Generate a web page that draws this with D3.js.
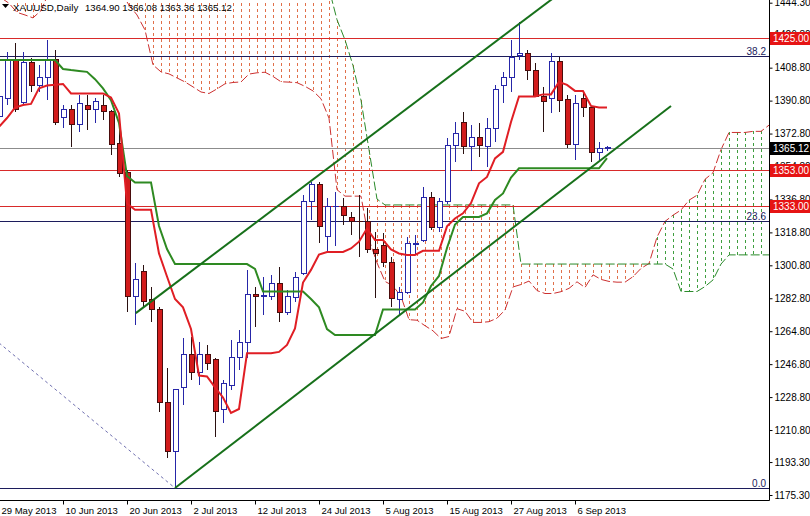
<!DOCTYPE html>
<html><head><meta charset="utf-8">
<script src="https://cdn.jsdelivr.net/npm/d3@7"></script>
<style>
html,body{margin:0;padding:0;background:#fff;}
svg{display:block;font-family:"Liberation Sans",Arial,sans-serif;}
</style></head><body>
<svg id="chart" width="810" height="516"></svg>
<script>
// ---- XAUUSD daily bars (bar 0 = 29 May 2013) ----
const opens  = [1381.9,1392.0,1413.0,1389.5,1411.4,1399.3,1403.2,1413.0,1381.3,1386.2,1378.0,1388.4,1385.7,1388.4,1385.1,1367.1,1351.3,1283.5,1297.2,1281.9,1276.9,1225.6,1198.8,1233.8,1251.8,1242.0,1251.8,1249.1,1221.8,1235.4,1250.2,1258.9,1285.1,1284.0,1284.0,1291.1,1274.8,1283.0,1296.6,1335.4,1344.7,1316.3,1333.0,1333.2,1327.2,1325.0,1324.5,1309.7,1311.4,1302.1,1281.9,1286.2,1312.5,1314.6,1337.6,1321.2,1335.4,1366.0,1379.1,1365.5,1370.9,1365.5,1375.8,1398.8,1403.7,1415.2,1416.8,1407.0,1392.8,1391.7,1411.9,1391.2,1366.6,1391.7,1386.8,1362.7,1364.90];
const highs  = [1395.0,1417.4,1422.3,1417.4,1414.1,1410.3,1423.9,1418.5,1388.4,1388.4,1393.9,1393.9,1392.2,1393.9,1385.7,1376.4,1352.9,1302.1,1301.0,1289.0,1278.0,1244.7,1233.2,1261.1,1261.6,1258.9,1257.3,1250.2,1238.1,1260.0,1265.5,1298.3,1289.0,1294.4,1295.5,1299.9,1287.3,1297.2,1339.2,1346.3,1346.3,1337.6,1340.9,1337.6,1329.9,1339.2,1332.1,1319.0,1318.5,1305.4,1289.0,1316.3,1317.4,1343.6,1340.9,1337.6,1370.4,1379.1,1384.6,1377.5,1378.6,1381.3,1399.3,1406.5,1423.9,1433.8,1418.5,1411.4,1398.3,1416.8,1414.6,1393.9,1393.9,1395.0,1387.3,1368.2,1366.08];
const lows   = [1378.6,1388.4,1384.6,1388.4,1395.5,1395.5,1391.2,1377.5,1375.8,1365.5,1373.7,1374.8,1378.6,1380.2,1361.1,1349.1,1275.3,1268.2,1277.5,1269.8,1220.7,1195.5,1179.1,1224.5,1238.1,1235.4,1243.6,1207.0,1214.7,1232.7,1243.6,1250.2,1267.1,1273.7,1281.9,1269.8,1273.7,1281.0,1295.5,1325.6,1313.0,1308.1,1311.4,1322.8,1317.4,1305.4,1307.5,1282.9,1299.9,1278.0,1273.7,1285.0,1306.5,1313.5,1320.1,1319.0,1334.3,1357.3,1361.6,1352.4,1360.0,1354.5,1368.2,1389.5,1395.5,1413.0,1402.1,1392.5,1373.7,1384.0,1384.6,1364.9,1358.4,1381.9,1357.3,1358.4,1363.36];
const closes = [1392.8,1413.0,1385.7,1411.4,1399.3,1403.2,1413.0,1378.6,1386.2,1378.0,1389.0,1385.7,1390.1,1385.1,1366.6,1350.7,1283.5,1293.3,1281.3,1276.4,1225.6,1198.8,1232.7,1251.8,1242.0,1251.8,1247.4,1220.7,1236.0,1250.2,1258.9,1284.6,1283.5,1284.3,1291.1,1274.8,1283.5,1294.4,1335.4,1344.7,1321.8,1332.7,1333.2,1327.8,1325.0,1324.8,1309.7,1307.0,1302.1,1282.4,1286.2,1312.5,1312.7,1338.1,1321.2,1335.4,1366.0,1373.1,1365.5,1370.9,1366.0,1375.8,1396.6,1403.7,1414.6,1416.8,1407.5,1392.8,1390.1,1411.9,1390.6,1366.6,1389.0,1386.8,1362.7,1364.9,1365.12];

// ---- Ichimoku lines (one value per bar) ----
const tenkan = [1376.4,1381.3,1387.0,1388.4,1389.0,1397.5,1399.0,1399.5,1399.9,1394.7,1394.7,1394.7,1394.7,1394.7,1392.5,1383.8,1334.6,1331.1,1331.1,1331.1,1307.3,1294.7,1282.4,1277.8,1266.0,1240.6,1240.1,1234.1,1228.6,1220.1,1222.3,1252.7,1252.7,1252.7,1252.7,1253.5,1257.3,1266.3,1291.4,1298.3,1306.7,1308.1,1308.1,1308.1,1310.0,1313.7,1320.9,1314.6,1314.6,1309.5,1307.3,1306.5,1306.5,1308.7,1308.7,1308.7,1322.1,1326.4,1329.2,1334.8,1345.6,1349.1,1359.2,1362.8,1379.1,1393.1,1393.1,1393.1,1394.2,1394.2,1401.0,1399.4,1396.1,1396.1,1387.9,1387.1,1387.1];
const kijun  = [1413.0,1413.0,1413.0,1413.0,1413.0,1413.0,1413.0,1413.0,1408.1,1407.5,1407.0,1406.5,1402.5,1397.5,1391.0,1378.6,1349.6,1346.1,1346.1,1346.1,1322.3,1309.7,1301.5,1301.5,1301.5,1301.5,1301.5,1301.5,1301.5,1301.5,1301.5,1301.5,1298.8,1286.5,1286.5,1286.5,1286.5,1286.5,1286.5,1282.4,1277.8,1266.0,1262.7,1262.7,1262.7,1262.7,1262.7,1262.7,1276.7,1276.7,1276.7,1276.7,1276.7,1280.5,1289.5,1295.0,1310.3,1323.1,1327.2,1327.2,1327.2,1329.2,1336.5,1340.1,1348.8,1353.8,1353.8,1353.8,1353.8,1353.8,1353.8,1353.8,1353.8,1353.8,1353.8,1353.8,1359.4];
// cloud spans, already shifted forward (one value per bar position, up to bar 97)
const spanA = [1447.0,1444.0,1439.0,1437.6,1436.0,1440.0,1450,1455,1458,1460,1462,1462,1460,1458,1455,1450,1443.0,1437.6,1429.4,1410.3,1406.5,1405.4,1403.2,1401.0,1398.3,1395.5,1394.7,1397.2,1400.0,1400.7,1401.0,1405.3,1406.0,1406.3,1404.0,1401.1,1400.9,1400.6,1398.6,1396.1,1391.8,1381.2,1342.1,1338.6,1338.6,1338.6,1314.8,1302.2,1292.0,1289.6,1283.8,1271.1,1270.8,1267.8,1265.0,1260.8,1261.9,1277.1,1275.7,1269.6,1269.6,1270.0,1271.9,1276.4,1289.0,1290.3,1292.2,1287.0,1285.4,1285.4,1286.4,1288.2,1291.8,1288.7,1295.6,1293.1,1292.0,1291.6,1291.6,1294.6,1299.1,1301.8,1316.2,1324.8,1328.2,1331.0,1336.4,1339.1,1347.8,1351.4,1364.0,1373.4,1373.4,1373.4,1374.0,1374.0,1377.4,1376.6];
const spanB = [1500,1500,1500,1500,1500,1500,1500,1500,1500,1500,1500,1500,1500,1500,1500,1500,1500,1500,1500,1500,1500,1500,1500,1500,1500,1500,1500,1500,1500,1500,1500,1500,1500,1500,1500,1500,1500,1500,1500,1500,1480,1452,1435,1424,1410,1391,1364,1337,1333.8,1333.8,1333.8,1333.8,1333.8,1333.8,1333.8,1333.8,1333.8,1333.8,1333.8,1333.8,1333.8,1333.8,1333.8,1333.8,1333.8,1301.5,1301.5,1301.5,1301.5,1301.5,1301.5,1301.5,1301.5,1301.5,1301.5,1301.5,1301.5,1301.5,1301.5,1301.5,1301.5,1301.5,1301.5,1301.5,1298.8,1286.5,1286.5,1286.5,1289.2,1292.8,1301.5,1306.5,1306.5,1306.5,1306.5,1306.5,1306.5,1306.5];

// ---- axes ----
const priceTicks = [1444.30,1426.80,1408.80,1390.80,1372.80,1354.80,1336.80,1318.80,1300.80,1282.80,1264.80,1246.80,1228.80,1210.80,1193.30,1175.30];
const dateLabels = ["29 May 2013","10 Jun 2013","20 Jun 2013","2 Jul 2013","12 Jul 2013","24 Jul 2013","5 Aug 2013","15 Aug 2013","27 Aug 2013","6 Sep 2013"];
const dateLabelBars = [0,8,16,24,32,40,48,56,64,72];

// ---- drawn objects ----
const levelLines = [1425.00, 1353.00, 1333.00];
const bidPrice = 1365.12;
const fibLabels = ["0.0","23.6","38.2"];
const fibPrices = [1179.1, 1325.1, 1415.3];
const fibTrend = [[0,1258.4],[22,1179.1]];
const channelUpper = [[17.1,1274.7],[69.2,1446.5]];
const channelLower = [[22,1179.1],[84,1387.9]];
const headerName = "XAUUSD,Daily";
const headerOHLC = "1364.90 1366.08 1363.36 1365.12";

const W = 769, H = 500;
const svg = d3.select("#chart");
const x = d3.scaleLinear().domain([0, 96]).range([-1, 767]);
const y = d3.scaleLinear().domain([1175.3, 1444.3]).range([495.0, 2.7]);

svg.append("defs").append("clipPath").attr("id","plot")
  .append("rect").attr("x",0).attr("y",0).attr("width",W).attr("height",H);
const plot = svg.append("g").attr("clip-path","url(#plot)");
const px = i => Math.round(x(i)) + 0.5;

// cloud hatch: one dotted vertical line per bar between the spans
const cloud = d3.range(spanA.length).map(i => ({i, a: spanA[i], b: spanB[i]}));
plot.append("g").attr("shape-rendering","crispEdges").selectAll("line").data(cloud).join("line")
  .attr("x1", d => px(d.i) + 2).attr("x2", d => px(d.i) + 2)
  .attr("y1", d => y(Math.max(d.a, d.b))).attr("y2", d => y(Math.min(d.a, d.b)))
  .attr("stroke", d => d.a > d.b ? "#3f9e3f" : "#e0704a")
  .attr("stroke-width", 1).attr("stroke-dasharray","3,3");

const lineGen = arr => d3.line().x((d,i) => x(i) + 2).y(d => y(d))(arr);
plot.append("path").attr("d", lineGen(spanA)).attr("fill","none")
  .attr("stroke","#cc3030").attr("stroke-width",1).attr("stroke-dasharray","9,3");
plot.append("path").attr("d", lineGen(spanB)).attr("fill","none")
  .attr("stroke","#2a8a2a").attr("stroke-width",1).attr("stroke-dasharray","9,3");

// fibonacci levels
fibPrices.forEach((p, k) => {
  const yy = Math.round(y(p)) + 0.5;
  plot.append("line").attr("x1",0).attr("x2",W).attr("y1",yy).attr("y2",yy)
    .attr("stroke","#1c1c5c").attr("stroke-width",1);
  plot.append("text").attr("x",766).attr("y",yy-2).attr("text-anchor","end")
    .attr("font-size",10).attr("fill","#1c1c5c").text(fibLabels[k]);
});
plot.append("line")
  .attr("x1", x(fibTrend[0][0])).attr("y1", y(fibTrend[0][1]))
  .attr("x2", x(fibTrend[1][0])).attr("y2", y(fibTrend[1][1]))
  .attr("stroke","#7070b0").attr("stroke-width",1).attr("stroke-dasharray","3,3");

// horizontal levels and bid line
levelLines.forEach(p => {
  const yy = Math.round(y(p)) + 0.5;
  plot.append("line").attr("x1",0).attr("x2",W).attr("y1",yy).attr("y2",yy)
    .attr("stroke","#d82a2a").attr("stroke-width",1);
});
{
  const yy = Math.round(y(bidPrice)) + 0.5;
  plot.append("line").attr("x1",0).attr("x2",W).attr("y1",yy).attr("y2",yy)
    .attr("stroke","#8c8c8c").attr("stroke-width",1);
}

// candles
const bars = d3.range(opens.length).map(i => ({i, o: opens[i], h: highs[i], l: lows[i], c: closes[i]}));
const cg = plot.append("g").attr("shape-rendering","crispEdges");
cg.selectAll("line").data(bars).join("line")
  .attr("x1", d => px(d.i)).attr("x2", d => px(d.i))
  .attr("y1", d => y(d.h)).attr("y2", d => y(d.l))
  .attr("stroke", d => d.c >= d.o ? "#2626a8" : "#2a1010");
cg.selectAll("rect").data(bars).join("rect")
  .attr("x", d => px(d.i) - 2.5).attr("width", 5)
  .attr("y", d => y(Math.max(d.o, d.c)))
  .attr("height", d => Math.max(0.5, Math.abs(y(d.o) - y(d.c))))
  .attr("fill", d => d.c >= d.o ? "#ffffff" : "#d21c1c")
  .attr("stroke", d => d.c >= d.o ? "#2626a8" : "#4a0c0c");

// tenkan / kijun
const ik = arr => d3.line().x((d,i) => x(i)).y(d => y(d))(arr);
plot.append("path").attr("d", ik(kijun)).attr("fill","none")
  .attr("stroke","#2e8a22").attr("stroke-width",2);
plot.append("path").attr("d", ik(tenkan)).attr("fill","none")
  .attr("stroke","#e01e24").attr("stroke-width",2);

// channel lines
[channelUpper, channelLower].forEach(pts => {
  plot.append("line")
    .attr("x1", x(pts[0][0])).attr("y1", y(pts[0][1]))
    .attr("x2", x(pts[1][0])).attr("y2", y(pts[1][1]))
    .attr("stroke","#17701a").attr("stroke-width",2);
});

// frame
svg.append("line").attr("x1",W+0.5).attr("x2",W+0.5).attr("y1",0).attr("y2",H+0.5).attr("stroke","#000");
svg.append("line").attr("x1",0).attr("x2",W+0.5).attr("y1",H+0.5).attr("y2",H+0.5).attr("stroke","#000");

// price axis
const ya = svg.append("g").attr("transform",`translate(${W+0.5},0)`)
  .call(d3.axisRight(y).tickValues(priceTicks).tickFormat(d3.format(".2f")).tickSize(3).tickPadding(2));
ya.select(".domain").remove();
ya.selectAll("text").attr("font-size",10).attr("font-family","Liberation Sans, Arial, sans-serif").attr("fill","#000");
ya.selectAll("line").attr("stroke","#000");

// date axis
const xa = svg.append("g").attr("transform",`translate(0,${H+0.5})`)
  .call(d3.axisBottom(x).tickValues(dateLabelBars).tickFormat((d,k) => dateLabels[k]).tickSize(4).tickPadding(3));
xa.select(".domain").remove();
xa.selectAll("text").attr("font-size",9.5).attr("text-anchor","start").attr("dx",2)
  .attr("font-family","Liberation Sans, Arial, sans-serif").attr("fill","#000");
xa.selectAll("line").attr("stroke","#000");

// price tags drawn over the axis labels they sit on
function tag(p, fill){
  const yy = Math.round(y(p));
  svg.append("rect").attr("x",W+1).attr("y",yy-6).attr("width",810-W-1).attr("height",13).attr("fill",fill);
  svg.append("text").attr("x",W+4).attr("y",yy+4).attr("font-size",10).attr("fill","#fff").text(d3.format(".2f")(p));
}
levelLines.forEach(p => tag(p, "#e61414"));
tag(bidPrice, "#000");

// header
svg.append("path").attr("d","M2,4 L9,4 L5.5,8 Z").attr("fill","#000");
svg.append("text").attr("x",13).attr("y",11).attr("font-size",9.8).attr("fill","#000").text(headerName);
svg.append("text").attr("x",85).attr("y",11).attr("font-size",9.6).attr("fill","#000").text(headerOHLC);
</script>
</body></html>
